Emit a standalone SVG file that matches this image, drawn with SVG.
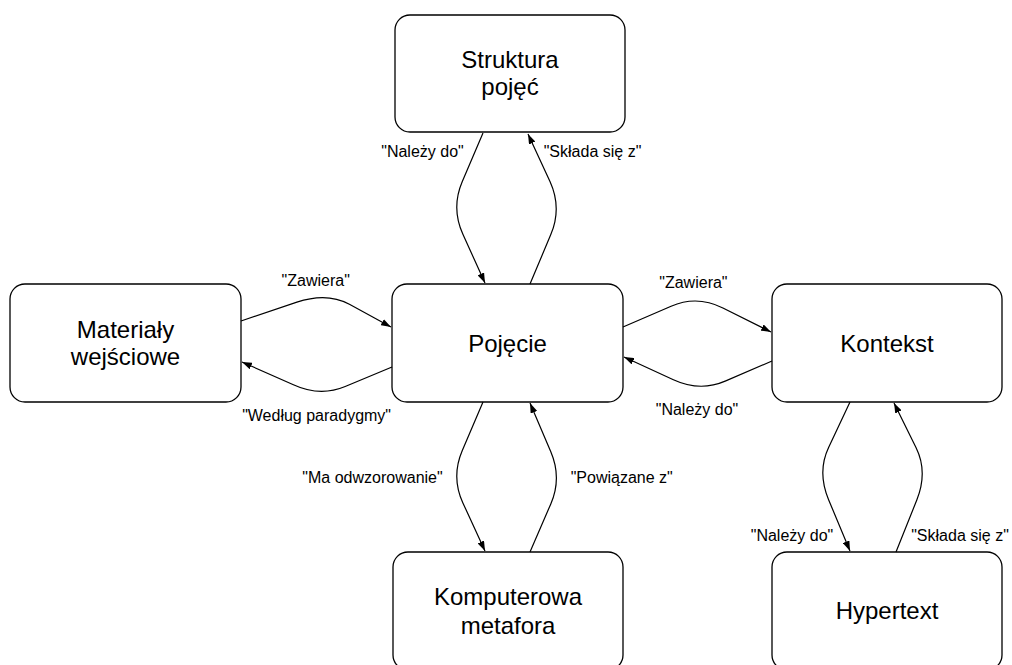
<svg xmlns="http://www.w3.org/2000/svg" width="1012" height="665" viewBox="0 0 1012 665">
<style>
.node rect{fill:#fff;stroke:#000;stroke-width:1.3}
.node text{font-family:"Liberation Sans",Arial,sans-serif;font-size:24px;fill:#000;text-anchor:middle}
.edges path{fill:none;stroke:#000;stroke-width:1.2;marker-end:url(#arr)}
.lbl text{font-family:"Liberation Sans",Arial,sans-serif;font-size:16px;fill:#000;text-anchor:middle}
</style>
<defs>
<marker id="arr" viewBox="0 0 10 7" refX="10" refY="3.5" markerWidth="10" markerHeight="7" markerUnits="userSpaceOnUse" orient="auto">
<path d="M0,0 L10,3.5 L0,7 z" fill="#000"/>
</marker>
</defs>
<rect width="1012" height="665" fill="#fff"/>
<g id="struktura" class="node"><rect x="395" y="15" width="230" height="117" rx="15"/><text x="510" y="68">Struktura</text><text x="510" y="95">pojęć</text></g>
<g id="materialy" class="node"><rect x="10" y="284" width="231" height="118" rx="15"/><text x="125.5" y="338">Materiały</text><text x="125.5" y="365">wejściowe</text></g>
<g id="pojecie" class="node"><rect x="392" y="284" width="231" height="118" rx="15"/><text x="507.5" y="352">Pojęcie</text></g>
<g id="kontekst" class="node"><rect x="772" y="284" width="230" height="118" rx="15"/><text x="887" y="352">Kontekst</text></g>
<g id="komputerowa" class="node"><rect x="393" y="552" width="230" height="118" rx="15"/><text x="508" y="605">Komputerowa</text><text x="508" y="634">metafora</text></g>
<g id="hypertext" class="node"><rect x="772" y="552" width="230" height="118" rx="15"/><text x="887" y="619">Hypertext</text></g>
<g id="connectors">
<g class="edges">
<path d="M483,133 L462.2,181.8 Q451,208 462.9,234.3 L485,283"/>
<path d="M530,284 L550.8,234.6 Q562,208 550.1,181.75 L528,134"/>
<path d="M483,402 L462.2,450.8 Q451,477 462.9,502.9 L485,551"/>
<path d="M530,552 L550.8,503.9 Q562,478 550.8,451.75 L530,403"/>
<path d="M850,402 L828.6,447.5 Q817,472 828.6,499.7 L850,551"/>
<path d="M896,552 L916.8,500 Q928,472 916.1,447.85 L894,403"/>
<path d="M241,321 L296.9,302.15 Q327,292 349.4,304.25 L391,327"/>
<path d="M392,367 L345.2,386.5 Q320,397 293.4,384.75 L242,362"/>
<path d="M623,327 L671.1,306.2 Q697,295 722.9,307.95 L771,332"/>
<path d="M772,361 L725.2,381.15 Q700,392 673.4,379.75 L624,357"/>
</g>
<g class="lbl">
<text x="422.5" y="157">"Należy do"</text>
<text x="592.5" y="157">"Składa się z"</text>
<text x="315.7" y="286">"Zawiera"</text>
<text x="693.4" y="288">"Zawiera"</text>
<text x="316.6" y="421">"Według paradygmy"</text>
<text x="697" y="415">"Należy do"</text>
<text x="372.5" y="483">"Ma odwzorowanie"</text>
<text x="621.7" y="483">"Powiązane z"</text>
<text x="792" y="541">"Należy do"</text>
<text x="960" y="541">"Składa się z"</text>
</g>
</g>
</svg>
